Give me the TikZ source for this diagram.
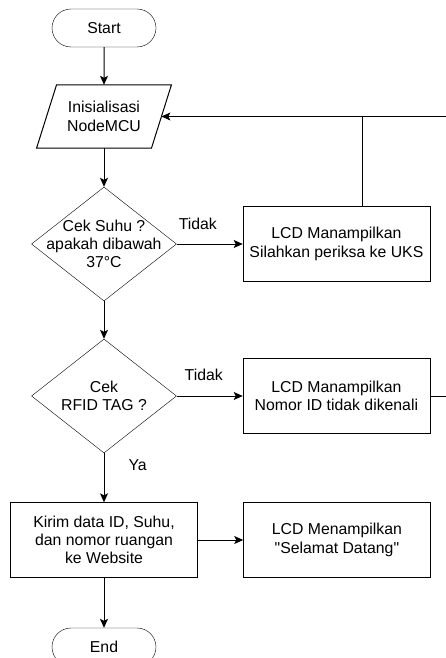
\documentclass[tikz,border=0pt]{standalone}
\usepackage{fontspec}
\setmainfont{Liberation Sans}[Ligatures=TeXOff]
\usetikzlibrary{positioning,shapes.geometric,shapes.misc,arrows.meta}

\begin{document}
\begin{tikzpicture}[x=1pt,y=-1pt]
\tikzset{every node/.style={font=\fontsize{15.8}{18.3}\selectfont, align=center, inner sep=2pt},
	terminal/.style={draw, rounded rectangle, minimum width=108pt, minimum height=38pt},
	io/.style={minimum width=114.5pt, minimum height=63pt},
	decision/.style={draw, diamond, aspect=1.28, minimum width=145pt, minimum height=114pt, inner sep=-15pt},
	process/.style={draw, rectangle, minimum width=187pt, minimum height=75pt},
	line/.style={draw, line width=1pt},
	arrow/.style={line, -{Stealth[length=9pt, width=8pt, inset=2pt]}}}
				\clip (0,0) rectangle (446,658);
				\node[terminal] (start) at (104,28) {Start};
				\node[io] (init) at (104,116.5) {Inisialisasi\\NodeMCU};
				\draw[line] ([xshift=-10pt]init.south west) -- ([xshift=10pt]init.north west) -- ([xshift=10pt]init.north east) -- ([xshift=-10pt]init.south east) -- cycle;
				\node[decision] (suhu) at (104,244) {Cek Suhu ?\\apakah dibawah\\37°C};
				\node[process, right=66pt of suhu] (uks) {LCD Manampilkan\\Silahkan periksa ke UKS};
				\node[decision] (rfid) at (104,396) {Cek\\RFID TAG ?};
				\node[process, right=66pt of rfid] (tagid) {LCD Manampilkan\\Nomor ID tidak dikenali};
				\node[process] (kirim) at (104,540) {Kirim data ID, Suhu,\\dan nomor ruangan\\ke Website};
				\node[process, right=45.5pt of kirim] (datang) {LCD Menampilkan\\"Selamat Datang"};
				\node[terminal] (stop) at (104,647) {End};
				\draw[arrow] (start) -- (init);
				\draw[arrow] (init) -- (suhu);
				\draw[arrow] (suhu.east) -- node[pos=0.32, above=12pt] {Tidak} (uks.west);
				\draw[line] ([xshift=26pt]uks.north) -- ([xshift=26pt]uks.north |- init.east);
				\draw[arrow] (suhu.south) -- (rfid.north);
				\draw[arrow] (rfid.east) -- node[pos=0.41, above=13pt] {Tidak} (tagid.west);
				\draw[arrow] (tagid.east) -- ++(40,0) |- (init.east);
				\draw[arrow] (rfid.south) -- node[pos=0.25, right=22pt] {Ya} (kirim.north);
				\draw[arrow] (kirim.east) -- (datang.west);
				\draw[arrow] (kirim.south) -- (stop.north);
\end{tikzpicture}
\end{document}
